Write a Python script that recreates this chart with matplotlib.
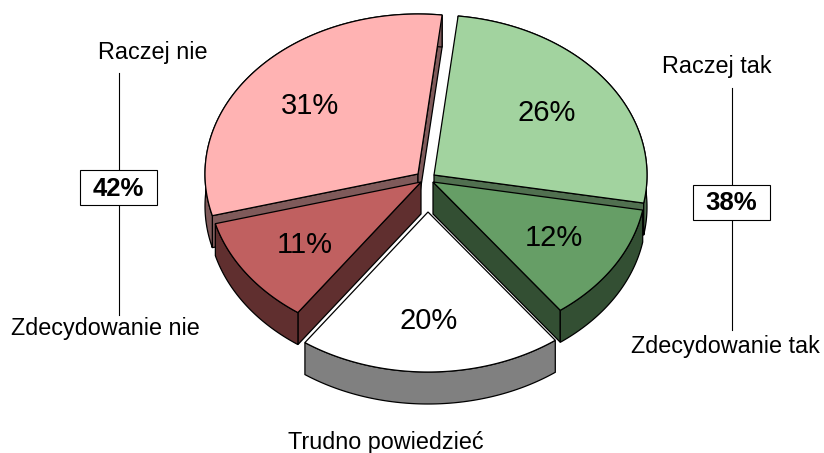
import numpy as np
import matplotlib
matplotlib.use("Agg")
import matplotlib.pyplot as plt
from matplotlib.patches import Polygon, Rectangle

plt.rcParams['font.family'] = ['Liberation Sans', 'DejaVu Sans']

categories = ["Raczej tak", "Zdecydowanie tak", "Trudno powiedzieć", "Zdecydowanie nie", "Raczej nie"]
shares = [26, 12, 20, 11, 31]
group_names = ["Raczej nie + Zdecydowanie nie", "Raczej tak + Zdecydowanie tak"]
group_values = [42, 38]

top_colors = ["#a2d39f", "#669e66", "#ffffff", "#c06060", "#ffb3b3"]
wall_colors = ["#517050", "#334f33", "#808080", "#602f2f", "#7f5a5a"]
centers = [(434, 175), (433, 182), (428, 212), (421, 182), (418, 174)]
pct_pos = [(547, 113), (554, 238), (429, 321), (305, 245), (310, 106)]
cat_pos = [(717, 66), (725, 347), (386, 443), (105, 329), (153, 53)]
draw_order = [4, 0, 3, 1, 2]

RX, RY, DEPTH, START = 213, 160, 32, 6.5

fig = plt.figure(figsize=(8.24, 4.53), dpi=100)
ax = fig.add_axes([0, 0, 1, 1])
ax.set_xlim(0, 824)
ax.set_ylim(453, 0)
ax.axis("off")

edges = START + np.concatenate([[0], np.cumsum(shares)]) * 3.6
EC = "#000000"
LW = 0.9


def outline(i):
    a = np.radians(np.linspace(edges[i], edges[i + 1], 120))
    cx, cy = centers[i]
    return cx + RX * np.sin(a), cy - RY * np.cos(a)


for z, i in enumerate(draw_order):
    cx, cy = centers[i]
    x, y = outline(i)
    base = 10 + z * 5
    # radial faces that look toward the viewer
    faces = []
    if np.sin(np.radians(edges[i])) < 0:
        faces.append((x[0], y[0]))
    if np.sin(np.radians(edges[i + 1])) > 0:
        faces.append((x[-1], y[-1]))
    for ex, ey in faces:
        ax.add_patch(Polygon([(cx, cy), (ex, ey), (ex, ey + DEPTH), (cx, cy + DEPTH)],
                             closed=True, fc=wall_colors[i], ec=EC, lw=LW, zorder=base))
    # curved face
    xs = np.concatenate([x, x[::-1]])
    ys = np.concatenate([y, y[::-1] + DEPTH])
    ax.add_patch(Polygon(np.column_stack([xs, ys]), closed=True,
                         fc=wall_colors[i], ec=EC, lw=LW, zorder=base + 1))
    # top face
    ax.add_patch(Polygon(np.column_stack([np.r_[cx, x], np.r_[cy, y]]), closed=True,
                         fc=top_colors[i], ec=EC, lw=LW, zorder=base + 2))

for i, (px, py) in enumerate(pct_pos):
    ax.text(px, py, f"{shares[i]}%", fontsize=21, ha="center", va="center", color="black", zorder=50)
for i, (px, py) in enumerate(cat_pos):
    ax.text(px, py, categories[i], fontsize=16.8, ha="center", va="center", color="black", zorder=50)

# group brackets with boxed totals
for value, lx, y0, y1, box_top in ((group_values[0], 119, 73, 315, 170),
                                   (group_values[1], 732, 88, 330, 185)):
    ax.plot([lx, lx], [y0, y1], color="black", lw=0.8, zorder=40)
    ax.add_patch(Rectangle((lx - 39, box_top), 77, 35, fc="white", ec="black", lw=0.8, zorder=41))
    ax.text(lx - 0.5, box_top + 18.5, f"{value}%", fontsize=18.5, fontweight="bold",
            ha="center", va="center", color="black", zorder=50)

fig.savefig("out.png", dpi=100)
